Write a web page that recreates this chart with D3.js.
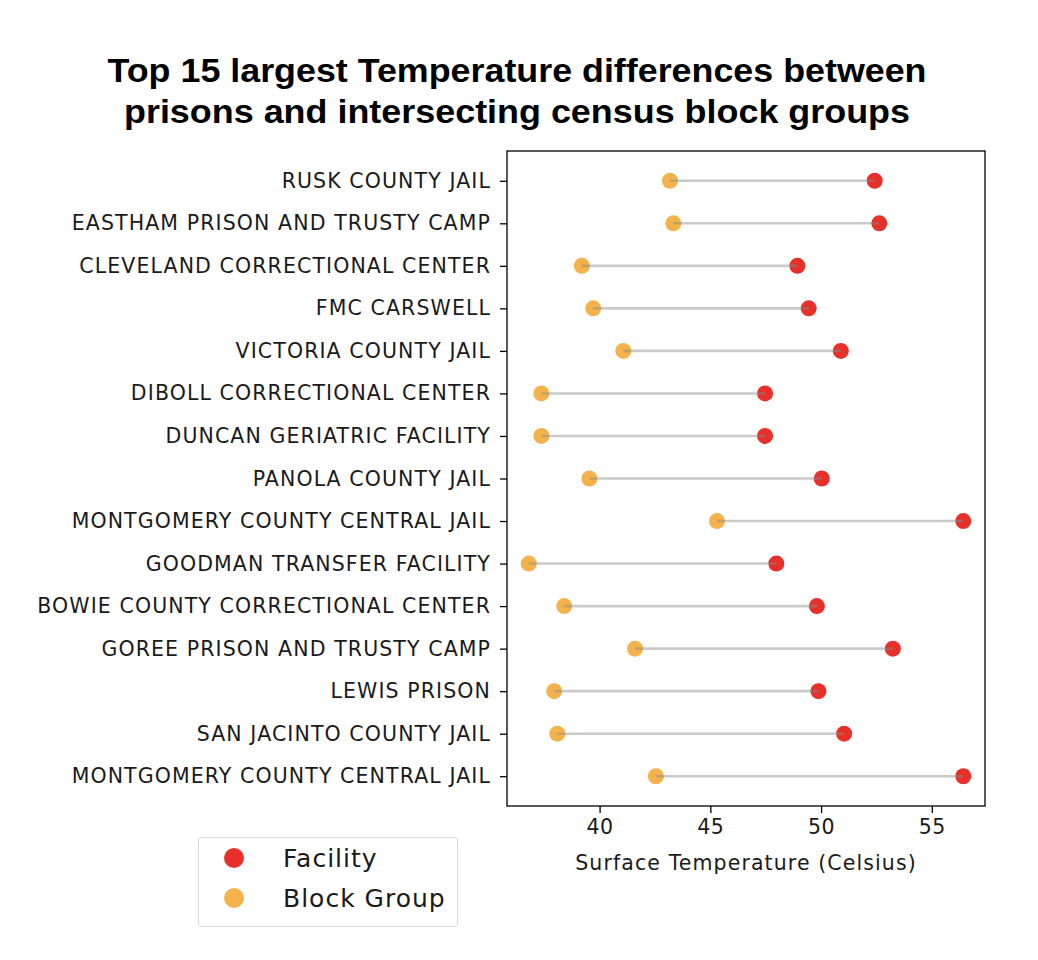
<!DOCTYPE html>
<html>
<head>
<meta charset="utf-8">
<script src="https://cdn.jsdelivr.net/npm/d3@7"></script>
<style>
  body { margin: 0; background: #fff; }
  svg { display: block; }
</style>
</head>
<body>
<svg id="chart" width="1038" height="960"></svg>
<script>
// facility names, top to bottom as in the figure
const facilities = [
  'RUSK COUNTY JAIL',
  'EASTHAM PRISON AND TRUSTY CAMP',
  'CLEVELAND CORRECTIONAL CENTER',
  'FMC CARSWELL',
  'VICTORIA COUNTY JAIL',
  'DIBOLL CORRECTIONAL CENTER',
  'DUNCAN GERIATRIC FACILITY',
  'PANOLA COUNTY JAIL',
  'MONTGOMERY COUNTY CENTRAL JAIL',
  'GOODMAN TRANSFER FACILITY',
  'BOWIE COUNTY CORRECTIONAL CENTER',
  'GOREE PRISON AND TRUSTY CAMP',
  'LEWIS PRISON',
  'SAN JACINTO COUNTY JAIL',
  'MONTGOMERY COUNTY CENTRAL JAIL'
];
const facilityTemp = [52.42, 52.63, 48.93, 49.44, 50.89, 47.47, 47.47, 50.03, 56.42, 47.98, 49.81, 53.24, 49.88, 51.04, 56.42];
const blockGroupTemp = [43.18, 43.33, 39.20, 39.71, 41.07, 37.37, 37.37, 39.54, 45.30, 36.80, 38.40, 41.60, 37.95, 38.09, 42.54];
const xTicks = [40, 45, 50, 55];
const titleLines = ['Top 15 largest Temperature differences between', 'prisons and intersecting census block groups'];
const legendLabels = ['Facility', 'Block Group'];

const svg = d3.select('#chart');
const margin = { top: 151, right: 53, bottom: 154, left: 507 };
const width = 1038, height = 960;
const red = '#e8302a', orange = '#f2ab3c';
const font = 'DejaVu Sans, sans-serif';

const rows = facilities.map((f, i) => ({ i, name: f, fac: facilityTemp[i], bg: blockGroupTemp[i] }));

// matplotlib-like 5% margins
const lo = d3.min(blockGroupTemp), hi = d3.max(facilityTemp);
const pad = (hi - lo) * 0.05;
const x = d3.scaleLinear()
  .domain([lo - pad, hi + pad])
  .range([margin.left, width - margin.right]);

const n = facilities.length;
const y = d3.scaleLinear()
  .domain([-0.7, n - 1 + 0.7])
  .range([margin.top, height - margin.bottom]);

// title
svg.append('g').selectAll('text')
  .data(titleLines)
  .enter()
  .append('text')
  .attr('x', 517)
  .attr('y', (d, i) => 82 + i * 41)
  .attr('text-anchor', 'middle')
  .attr('font-family', 'Liberation Sans, Arial, sans-serif')
  .attr('font-weight', 'bold')
  .attr('font-size', 34)
  .attr('textLength', (d, i) => i === 0 ? 819 : 786)
  .attr('lengthAdjust', 'spacingAndGlyphs')
  .attr('fill', '#000')
  .text(d => d);

// dots
svg.append('g').selectAll('circle')
  .data(rows)
  .enter()
  .append('circle')
  .attr('cx', d => x(d.bg))
  .attr('cy', d => y(d.i))
  .attr('r', 8)
  .attr('fill', orange)
  .attr('fill-opacity', 0.92);

svg.append('g').selectAll('circle')
  .data(rows)
  .enter()
  .append('circle')
  .attr('cx', d => x(d.fac))
  .attr('cy', d => y(d.i))
  .attr('r', 8)
  .attr('fill', red);

// connecting lines (drawn on top, translucent)
svg.append('g').selectAll('line')
  .data(rows)
  .enter()
  .append('line')
  .attr('x1', d => x(d.bg))
  .attr('x2', d => x(d.fac))
  .attr('y1', d => y(d.i))
  .attr('y2', d => y(d.i))
  .attr('stroke', '#8a8a8a')
  .attr('stroke-opacity', 0.45)
  .attr('stroke-width', 2.6);

// axes
const xAxis = svg.append('g')
  .attr('transform', `translate(0,${height - margin.bottom})`)
  .call(d3.axisBottom(x).tickValues(xTicks).tickSize(7).tickPadding(6));
const yAxis = svg.append('g')
  .attr('transform', `translate(${margin.left},0)`)
  .call(d3.axisLeft(y).tickValues(d3.range(n)).tickFormat(i => facilities[i]).tickSize(7).tickPadding(9));

[xAxis, yAxis].forEach(a => {
  a.select('.domain').remove();
  a.selectAll('line').attr('stroke', '#000').attr('stroke-width', 1.3);
  a.selectAll('text')
    .attr('font-family', font)
    .attr('font-size', 20.5)
    .attr('letter-spacing', 1.1)
    .attr('fill', '#1a1a1a');
});
xAxis.selectAll('text').attr('dy', '0.75em').attr('letter-spacing', 0.6);

// frame
svg.append('rect')
  .attr('x', margin.left)
  .attr('y', margin.top)
  .attr('width', width - margin.left - margin.right)
  .attr('height', height - margin.top - margin.bottom)
  .attr('fill', 'none')
  .attr('stroke', '#000')
  .attr('stroke-width', 1.3);

// x label
svg.append('text')
  .attr('x', (margin.left + width - margin.right) / 2)
  .attr('y', 870)
  .attr('text-anchor', 'middle')
  .attr('font-family', font)
  .attr('font-size', 20.5)
  .attr('letter-spacing', 1.1)
  .attr('fill', '#1a1a1a')
  .text('Surface Temperature (Celsius)');

// legend
const legend = svg.append('g');
legend.append('rect')
  .attr('x', 198.5).attr('y', 837.5)
  .attr('width', 259).attr('height', 89)
  .attr('rx', 3)
  .attr('fill', '#fff')
  .attr('stroke', '#d9d9d9');
const items = legend.selectAll('g.item')
  .data(legendLabels)
  .enter()
  .append('g')
  .attr('class', 'item')
  .attr('transform', (d, i) => `translate(234,${858 + i * 40})`);
items.append('circle')
  .attr('r', 10)
  .attr('fill', (d, i) => i === 0 ? red : orange)
  .attr('fill-opacity', (d, i) => i === 0 ? 1 : 0.92);
items.append('text')
  .attr('x', 49)
  .attr('dy', '0.35em')
  .attr('font-family', font)
  .attr('font-size', 25)
  .attr('letter-spacing', 1)
  .attr('fill', '#1a1a1a')
  .text(d => d);
</script>
</body>
</html>
